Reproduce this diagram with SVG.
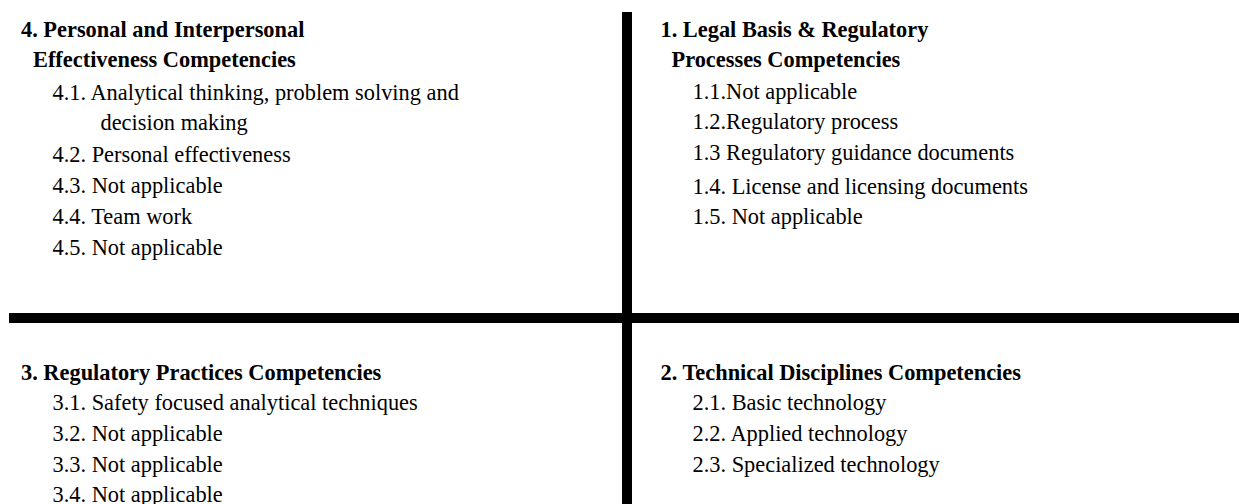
<svg xmlns="http://www.w3.org/2000/svg" width="1239" height="504" viewBox="0 0 1239 504">
<style>
text{font-family:"Liberation Serif","Times New Roman",serif;font-size:24px;fill:#000}
.h{font-weight:bold}
.bar{fill:#000}
</style>
<rect width="1239" height="504" fill="#fff"/>
<g id="connectors">
<rect class="bar" x="622" y="12" width="10" height="492"/>
<rect class="bar" x="9" y="313" width="1230" height="10"/>
</g>
<g id="node4">
<text class="h" transform="translate(21,36.5) scale(0.933,1)">4. Personal and Interpersonal</text>
<text class="h" transform="translate(33,66.5) scale(0.933,1)">Effectiveness Competencies</text>
<text transform="translate(52.5,99.5) scale(0.933,1)">4.1. Analytical thinking, problem solving and</text>
<text transform="translate(100.5,129.5) scale(0.933,1)">decision making</text>
<text transform="translate(52.5,162) scale(0.933,1)">4.2. Personal effectiveness</text>
<text transform="translate(52.5,193) scale(0.933,1)">4.3. Not applicable</text>
<text transform="translate(52.5,224) scale(0.933,1)">4.4. Team work</text>
<text transform="translate(52.5,255) scale(0.933,1)">4.5. Not applicable</text>
</g>
<g id="node1">
<text class="h" transform="translate(660.5,37) scale(0.933,1)">1. Legal Basis &amp; Regulatory</text>
<text class="h" transform="translate(671.5,66.5) scale(0.933,1)">Processes Competencies</text>
<text transform="translate(692.5,99) scale(0.933,1)">1.1.Not applicable</text>
<text transform="translate(692.5,128.5) scale(0.933,1)">1.2.Regulatory process</text>
<text transform="translate(692.5,159.5) scale(0.933,1)">1.3 Regulatory guidance documents</text>
<text transform="translate(692.5,193.5) scale(0.933,1)">1.4. License and licensing documents</text>
<text transform="translate(692.5,224) scale(0.933,1)">1.5. Not applicable</text>
</g>
<g id="node3">
<text class="h" transform="translate(21,379.5) scale(0.933,1)">3. Regulatory Practices Competencies</text>
<text transform="translate(52.5,410) scale(0.933,1)">3.1. Safety focused analytical techniques</text>
<text transform="translate(52.5,441) scale(0.933,1)">3.2. Not applicable</text>
<text transform="translate(52.5,471.5) scale(0.933,1)">3.3. Not applicable</text>
<text transform="translate(52.5,502) scale(0.933,1)">3.4. Not applicable</text>
</g>
<g id="node2">
<text class="h" transform="translate(660.5,379.5) scale(0.933,1)">2. Technical Disciplines Competencies</text>
<text transform="translate(692.5,410) scale(0.933,1)">2.1. Basic technology</text>
<text transform="translate(692.5,441) scale(0.933,1)">2.2. Applied technology</text>
<text transform="translate(692.5,472) scale(0.933,1)">2.3. Specialized technology</text>
</g>
</svg>
